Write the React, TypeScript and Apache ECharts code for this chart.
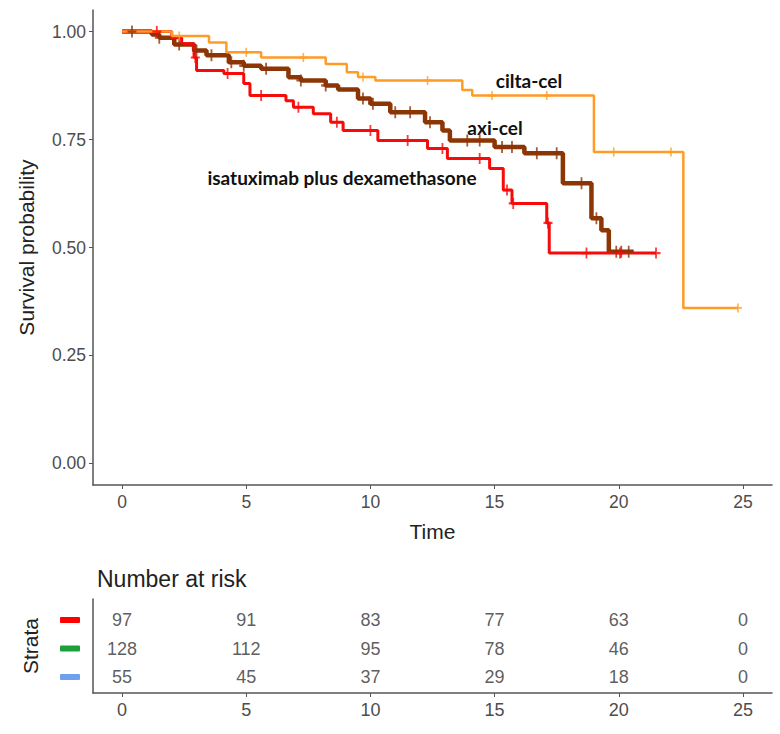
import React, { useEffect, useRef } from "react";
import * as echarts from "echarts";

// ---------- data ----------
const timeTicks = [0, 5, 10, 15, 20, 25];
const survTicks = [0, 0.25, 0.5, 0.75, 1];

// Kaplan-Meier step points [time, survival]
const isaSteps: number[][] = [
  [0, 1], [2.0, 0.986], [2.4, 0.972], [2.9, 0.94], [3.0, 0.91], [4.1, 0.903], [4.9, 0.88],
  [5.15, 0.852], [6.6, 0.84], [6.9, 0.825], [7.7, 0.81], [8.4, 0.79], [8.9, 0.771],
  [10.3, 0.748], [12.3, 0.729], [13.1, 0.706], [14.8, 0.683], [15.35, 0.633],
  [15.7, 0.602], [17.1, 0.557], [17.2, 0.487], [21.5, 0.487],
];
const isaCensor: number[][] = [
  [1.4, 1], [2.95, 0.94], [4.25, 0.903], [5.6, 0.852], [7.1, 0.825], [8.65, 0.79],
  [10.0, 0.771], [11.5, 0.748], [12.9, 0.729], [14.4, 0.706], [15.5, 0.633],
  [15.75, 0.602], [17.15, 0.557], [18.7, 0.487], [20.05, 0.487], [21.5, 0.487],
];

const axiSteps: number[][] = [
  [0, 1], [1.2, 0.993], [1.5, 0.986], [2.1, 0.97], [2.9, 0.956], [3.4, 0.945], [4.3, 0.929],
  [4.9, 0.921], [5.6, 0.914], [6.7, 0.894], [7.2, 0.887], [8.2, 0.875], [8.7, 0.866],
  [9.5, 0.845], [10.0, 0.833], [10.8, 0.813], [12.2, 0.79], [12.9, 0.771], [13.2, 0.748],
  [15.0, 0.733], [16.2, 0.718], [17.75, 0.649], [18.9, 0.568], [19.3, 0.54], [19.6, 0.49],
  [20.6, 0.49],
];
const axiCensor: number[][] = [
  [0.4, 1], [1.5, 0.986], [2.3, 0.97], [3.0, 0.956], [3.6, 0.945], [4.4, 0.929], [4.9, 0.921],
  [5.8, 0.914], [7.2, 0.887], [8.2, 0.875], [9.7, 0.845], [10.1, 0.833], [11.0, 0.813],
  [11.6, 0.813], [12.4, 0.79], [13.9, 0.748], [14.4, 0.748], [15.3, 0.733], [15.7, 0.733],
  [16.7, 0.718], [17.5, 0.718], [18.5, 0.649], [19.1, 0.568], [19.9, 0.49], [20.1, 0.49],
  [20.4, 0.49],
];

const ciltaSteps: number[][] = [
  [0, 1], [2.0, 0.99], [3.5, 0.975], [4.2, 0.952], [5.6, 0.94], [8.2, 0.925], [9.05, 0.906],
  [9.5, 0.895], [10.2, 0.887], [13.7, 0.865], [14.1, 0.852], [19.0, 0.721], [22.6, 0.36],
  [24.8, 0.36],
];
const ciltaCensor: number[][] = [
  [2.3, 0.99], [5.0, 0.952], [7.3, 0.94], [9.7, 0.895], [12.3, 0.887], [14.9, 0.852],
  [17.1, 0.852], [19.8, 0.721], [22.1, 0.721], [24.8, 0.36],
];

// number at risk table
const riskTimes = [0, 5, 10, 15, 20, 25];
const riskIsa = [97, 91, 83, 77, 63, 0];
const riskAxi = [128, 112, 95, 78, 46, 0];
const riskCilta = [55, 45, 37, 29, 18, 0];

const labels = {
  isa: "isatuximab plus dexamethasone",
  axi: "axi-cel",
  cilta: "cilta-cel",
};

const colors = {
  isa: "#F70A0A",
  axi: "#8C3505",
  cilta: "#FF9C26",
};

const PLUS =
  "path://M4,0 L6,0 L6,4 L10,4 L10,6 L6,6 L6,10 L4,10 L4,6 L0,6 L0,4 L4,4 Z";

export default function App() {
  const ref = useRef<HTMLDivElement>(null);
  useEffect(() => {
    if (!ref.current) return;
    const chart = echarts.init(ref.current, null, { renderer: "svg" });
    const axisColor = "#555555";
    const tickLabelColor = "#4D4D4D";
    const font = "'Liberation Sans', Arial, sans-serif";
    const annFont = "bold 19px Lato, 'Open Sans', sans-serif";

    const riskRow = (vals: number[], row: number) =>
      riskTimes.map((t, i) => [t, row, vals[i]]);

    const option: any = {
      animation: false,
      backgroundColor: "#ffffff",
      title: {
        text: "Number at risk",
        left: 92,
        top: 562,
        textStyle: { fontFamily: font, fontSize: 23, fontWeight: "normal", color: "#222222" },
      },
      grid: [
        { left: 93, top: 10, width: 679, height: 475 },
        { left: 93, top: 599, width: 679, height: 94 },
      ],
      xAxis: [
        {
          type: "value",
          gridIndex: 0,
          min: -1.17,
          max: 26.17,
          name: "Time",
          nameLocation: "middle",
          nameGap: 36,
          nameTextStyle: { fontFamily: font, fontSize: 21, color: "#222222" },
          axisLine: { show: true, onZero: false, lineStyle: { color: axisColor, width: 1.5 } },
          axisTick: { show: true, customValues: timeTicks, length: 4, lineStyle: { color: axisColor } },
          axisLabel: {
            customValues: timeTicks,
            fontFamily: font,
            fontSize: 17.5,
            color: tickLabelColor,
            margin: 8,
          },
          splitLine: { show: false },
        },
        {
          type: "value",
          gridIndex: 1,
          min: -1.17,
          max: 26.17,
          axisLine: { show: true, onZero: false, lineStyle: { color: axisColor, width: 1.5 } },
          axisTick: { show: true, customValues: timeTicks, length: 4, lineStyle: { color: axisColor } },
          axisLabel: {
            customValues: timeTicks,
            fontFamily: font,
            fontSize: 18,
            color: tickLabelColor,
            margin: 8,
          },
          splitLine: { show: false },
        },
      ],
      yAxis: [
        {
          type: "value",
          gridIndex: 0,
          min: -0.05,
          max: 1.05,
          name: "Survival probability",
          nameLocation: "middle",
          nameGap: 56,
          nameTextStyle: { fontFamily: font, fontSize: 21, color: "#222222" },
          axisLine: { show: true, onZero: false, lineStyle: { color: axisColor, width: 1.5 } },
          axisTick: { show: true, customValues: survTicks, length: 4, lineStyle: { color: axisColor } },
          axisLabel: {
            customValues: survTicks,
            formatter: (v: number) => v.toFixed(2),
            fontFamily: font,
            fontSize: 17.5,
            color: tickLabelColor,
            margin: 7,
          },
          splitLine: { show: false },
        },
        {
          type: "value",
          gridIndex: 1,
          min: 0.44,
          max: 3.74,
          name: "Strata",
          nameLocation: "middle",
          nameGap: 52,
          nameTextStyle: { fontFamily: font, fontSize: 21, color: "#222222" },
          axisLine: { show: true, onZero: false, lineStyle: { color: axisColor, width: 1.5 } },
          axisTick: { show: false },
          axisLabel: {
            customValues: [1, 2, 3],
            formatter: (v: number) => (v === 3 ? "{r| }" : v === 2 ? "{g| }" : "{b| }"),
            margin: 13,
            rich: {
              r: { backgroundColor: "#FF0000", width: 20, height: 6, borderRadius: 1 },
              g: { backgroundColor: "#1BA03C", width: 20, height: 6, borderRadius: 1 },
              b: { backgroundColor: "#6FA0EE", width: 20, height: 6, borderRadius: 1 },
            },
          },
          splitLine: { show: false },
        },
      ],
      series: [
        {
          name: labels.axi,
          type: "line",
          step: "end",
          xAxisIndex: 0,
          yAxisIndex: 0,
          data: axiSteps,
          showSymbol: false,
          lineStyle: { color: colors.axi, width: 4.5 },
          z: 2,
        },
        {
          name: labels.isa,
          type: "line",
          step: "end",
          xAxisIndex: 0,
          yAxisIndex: 0,
          data: isaSteps,
          showSymbol: false,
          lineStyle: { color: colors.isa, width: 3 },
          z: 3,
        },
        {
          name: labels.cilta,
          type: "line",
          step: "end",
          xAxisIndex: 0,
          yAxisIndex: 0,
          data: ciltaSteps,
          showSymbol: false,
          lineStyle: { color: colors.cilta, width: 2.5 },
          z: 4,
        },
        {
          type: "scatter",
          xAxisIndex: 0,
          yAxisIndex: 0,
          data: axiCensor,
          symbol: PLUS,
          symbolSize: [9, 12],
          itemStyle: { color: colors.axi },
          z: 5,
        },
        {
          type: "scatter",
          xAxisIndex: 0,
          yAxisIndex: 0,
          data: isaCensor,
          symbol: PLUS,
          symbolSize: [9, 11],
          itemStyle: { color: colors.isa },
          z: 6,
        },
        {
          type: "scatter",
          xAxisIndex: 0,
          yAxisIndex: 0,
          data: ciltaCensor,
          symbol: PLUS,
          symbolSize: [8, 9],
          itemStyle: { color: colors.cilta },
          z: 7,
        },
        ...[
          riskRow(riskIsa, 3),
          riskRow(riskAxi, 2),
          riskRow(riskCilta, 1),
        ].map((d) => ({
          type: "scatter",
          xAxisIndex: 1,
          yAxisIndex: 1,
          data: d,
          symbolSize: 0,
          label: {
            show: true,
            position: "inside",
            formatter: (p: any) => String(p.value[2]),
            fontFamily: font,
            fontSize: 18,
            color: "#333333",
          },
        })),
      ],
      graphic: [
        {
          type: "text",
          x: 529,
          y: 80,
          style: { text: labels.cilta, font: annFont, fill: "#111111", align: "center", verticalAlign: "middle" },
        },
        {
          type: "text",
          x: 495,
          y: 127,
          style: { text: labels.axi, font: annFont, fill: "#111111", align: "center", verticalAlign: "middle" },
        },
        {
          type: "text",
          x: 342,
          y: 177,
          style: { text: labels.isa, font: annFont, fill: "#111111", align: "center", verticalAlign: "middle" },
        },
      ],
    };
    chart.setOption(option);
    return () => chart.dispose();
  }, []);
  return <div ref={ref} style={{ width: 780, height: 734, position: "absolute", left: 0, top: 0 }} />;
}
